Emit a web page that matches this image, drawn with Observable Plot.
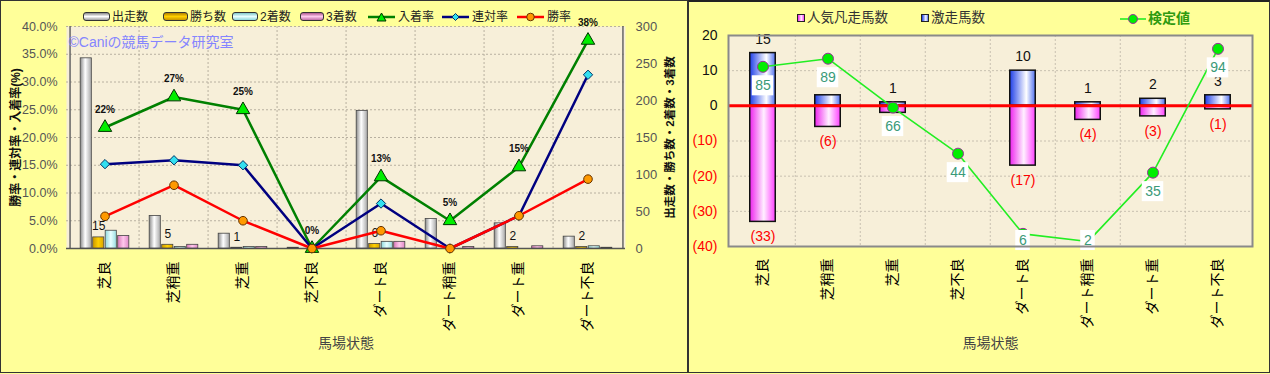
<!DOCTYPE html>
<html><head><meta charset="utf-8">
<script src="https://cdn.jsdelivr.net/npm/d3@7"></script>
<script src="https://cdn.jsdelivr.net/npm/@observablehq/plot@0.6"></script>
<style>
body{margin:0;background:#ffff99;font-family:"Liberation Sans","Noto Sans CJK JP",sans-serif;}
#wrap{position:relative;width:1270px;height:374px;background:#ffff99;overflow:hidden}
.abs{position:absolute}
.lg{position:absolute;font-size:12px;color:#222;line-height:14px;white-space:nowrap}
.ic{position:absolute;height:7px;border:1px solid #333;border-radius:3px}
.sq{position:absolute;width:6px;height:6px;border:1px solid #222}
svg.plot{position:absolute;top:0}
</style></head>
<body>
<svg width="0" height="0" style="position:absolute">
<defs>
<linearGradient id="gStart" x1="0" x2="1" y1="0" y2="0"><stop offset="0" stop-color="#8a8a8a"/><stop offset="0.45" stop-color="#ffffff"/><stop offset="1" stop-color="#a8a8a8"/></linearGradient>
<linearGradient id="gWin" x1="0" x2="1" y1="0" y2="0"><stop offset="0" stop-color="#c89600"/><stop offset="0.5" stop-color="#ffd000"/><stop offset="1" stop-color="#d8a400"/></linearGradient>
<linearGradient id="gSecond" x1="0" x2="1" y1="0" y2="0"><stop offset="0" stop-color="#8fd8dc"/><stop offset="0.5" stop-color="#e8ffff"/><stop offset="1" stop-color="#9adfe2"/></linearGradient>
<linearGradient id="gThird" x1="0" x2="1" y1="0" y2="0"><stop offset="0" stop-color="#d878b8"/><stop offset="0.5" stop-color="#ffc8ec"/><stop offset="1" stop-color="#e088c8"/></linearGradient>
<linearGradient id="gBlue" x1="0" x2="1" y1="0" y2="0"><stop offset="0" stop-color="#1f3fe8"/><stop offset="0.65" stop-color="#ffffff"/><stop offset="1" stop-color="#5070f0"/></linearGradient>
<linearGradient id="gPink" x1="0" x2="1" y1="0" y2="0"><stop offset="0" stop-color="#ee22ee"/><stop offset="0.55" stop-color="#fff0ff"/><stop offset="1" stop-color="#ff40ff"/></linearGradient>
</defs>
</svg>
<div id="wrap"></div>
<script>
// ---------- data ----------
const cats = ["芝良","芝稍重","芝重","芝不良","ダート良","ダート稍重","ダート重","ダート不良"];
// left chart: counts
const starts  = [257, 44, 20, 1, 186, 40, 34, 16];
const wins    = [15, 5, 1, 0, 6, 0, 2, 2];
const seconds = [24, 2, 2, 0, 9, 0, 0, 3];
const thirds  = [17, 5, 2, 0, 9, 2, 3, 1];
// left chart: rates (%)
const winRate    = [5.8, 11.4, 5.0, 0, 3.2, 0, 5.9, 12.5];
const rentaiRate = [15.2, 15.9, 15.0, 0, 8.1, 0, 5.9, 31.3];
const placeRate  = [21.8, 27.3, 25.0, 0, 12.9, 5.0, 14.7, 37.5];
const placeLabels = ["22%","27%","25%","0%","13%","5%","15%","38%"];
const pctTicks = [0,5,10,15,20,25,30,35,40];
const countTicks = [0,50,100,150,200,250,300];
// right chart
const gekisou = [15, 3, 1, 0, 10, 1, 2, 3];      // 激走馬数
const bonsou  = [33, 6, 2, 0, 17, 4, 3, 1];      // 人気凡走馬数
const kentei  = [11.1, 13.4, -0.5, -13.6, -36.4, -38.6, -19.0, 16.2]; // 検定値 (plotted)
const kenteiLabels = ["85","89","66","44","6","2","35","94"];
const rTicks = [20,10,0,-10,-20,-30,-40];

const FONT = '"Liberation Sans","Noto Sans CJK JP",sans-serif';
const wrap = document.getElementById("wrap");

// ---------- left chart ----------
const W1 = 688, H = 374, mL1 = 66, mR1 = 63;
const bw1 = (W1 - mL1 - mR1) / cats.length;
const k = 40 / 300;
function gbar(vals, off, fill) {
  return Plot.barY(cats, {x: d => d, y: (d, i) => vals[i] * k, fill, stroke: "#444", strokeWidth: 0.8,
    insetLeft: bw1 / 2 + off - 6, insetRight: bw1 / 2 - off - 6});
}
const left = Plot.plot({
  width: W1, height: H, marginLeft: mL1, marginRight: mR1, marginTop: 26, marginBottom: 126,
  x: {type: "band", domain: cats, padding: 0, axis: null},
  y: {domain: [0, 40], axis: null},
  style: {background: "transparent", fontFamily: FONT, overflow: "visible"},
  marks: [
    Plot.frame({fill: "#f7efd9", stroke: "none"}),
    Plot.ruleY(pctTicks.slice(1), {stroke: "#b8b0a0", strokeDasharray: "2,2"}),
    Plot.ruleX(cats.slice(1), {x: d => d, dx: -bw1 / 2, stroke: "#b8b0a0", strokeDasharray: "2,2"}),
    Plot.ruleX([cats[0]], {x: d => d, dx: -bw1 / 2, stroke: "#666", strokeWidth: 1.5}),
    Plot.ruleX([cats[7]], {x: d => d, dx: bw1 / 2, stroke: "#666", strokeWidth: 1.5}),
    Plot.ruleY([0], {stroke: "#555", strokeWidth: 1.5}),
    gbar(starts, -18.75, "url(#gStart)"),
    gbar(wins, -6.25, "url(#gWin)"),
    gbar(seconds, 6.25, "url(#gSecond)"),
    gbar(thirds, 18.75, "url(#gThird)"),
    Plot.text(cats, {filter: (d, i) => wins[i] > 0, x: d => d, y: (d, i) => wins[i] * k, dx: -6.25, dy: -11,
      text: (d, i) => String(wins[i]), fontSize: 12, fill: "#111"}),
    Plot.line(cats, {x: d => d, y: (d, i) => placeRate[i], stroke: "#008000", strokeWidth: 2.5}),
    Plot.line(cats, {x: d => d, y: (d, i) => rentaiRate[i], stroke: "#000080", strokeWidth: 2.5}),
    Plot.line(cats, {x: d => d, y: (d, i) => winRate[i], stroke: "#ff0000", strokeWidth: 2.5}),
    Plot.dot(cats, {x: d => d, y: (d, i) => placeRate[i], symbol: "triangle", r: 5, fill: "#00ee00", stroke: "#003300", strokeWidth: 1}),
    Plot.dot(cats, {x: d => d, y: (d, i) => rentaiRate[i], symbol: "diamond2", r: 4.2, fill: "#33e0f0", stroke: "#003366", strokeWidth: 1}),
    Plot.dot(cats, {x: d => d, y: (d, i) => winRate[i], symbol: "circle", r: 4.3, fill: "#ff9900", stroke: "#663300", strokeWidth: 1}),
    Plot.text(cats, {x: d => d, y: (d, i) => placeRate[i], dy: -18, text: (d, i) => placeLabels[i],
      fontSize: 10, fontWeight: "bold", fill: "#111"}),
    Plot.text(["©Caniの競馬データ研究室"], {frameAnchor: "top-left", textAnchor: "start", lineAnchor: "middle",
      dx: 2, dy: 16, fill: "#8585ff", fontSize: 14}),
    Plot.text(pctTicks, {y: d => d, frameAnchor: "left", textAnchor: "end", dx: -9,
      text: d => d.toFixed(1) + "%", fontSize: 12.5, fill: "#555"}),
    Plot.text(countTicks, {y: d => d * k, frameAnchor: "right", textAnchor: "start", dx: 10,
      text: d => String(d), fontSize: 13, fill: "#555"}),
    Plot.text(["勝率・連対率・入着率(%)"], {frameAnchor: "left", textAnchor: "middle", rotate: -90, dx: -50,
      fontSize: 12, fontWeight: "bold", fill: "#111"}),
    Plot.text(["出走数・勝ち数・2着数・3着数"], {frameAnchor: "right", textAnchor: "middle", rotate: -90, dx: 45,
      fontSize: 11.5, fontWeight: "bold", fill: "#111"}),
    Plot.text(cats, {x: d => d, frameAnchor: "bottom", rotate: -90, textAnchor: "end", lineAnchor: "middle",
      dy: 13, fontSize: 14, fill: "#000"}),
    Plot.text(["馬場状態"], {frameAnchor: "bottom", dy: 99, fontSize: 14, fill: "#444"})
  ]
});
left.classList.add("plot");
left.style.left = "0px";
wrap.appendChild(left);

// ---------- right chart ----------
const W2 = 582, mL2 = 40, mR2 = 18;
const bw2 = (W2 - mL2 - mR2) / cats.length;
const boxY = v => Math.max(v - 5.4, -38.3);
// a count label hidden by a 検定値 label box in the original is not drawn
const hidden = (labelY, i) => Math.abs(labelY - boxY(kentei[i])) < 2.85;
const right = Plot.plot({
  width: W2, height: H, marginLeft: mL2, marginRight: mR2, marginTop: 35, marginBottom: 128,
  x: {type: "band", domain: cats, padding: 0, axis: null},
  y: {domain: [-40, 20], axis: null},
  style: {background: "transparent", fontFamily: FONT, overflow: "visible"},
  marks: [
    Plot.frame({fill: "#f7efd9", stroke: "none"}),
    Plot.ruleY([10, -10, -20, -30], {stroke: "#c8c0b0", strokeDasharray: "2,2"}),
    Plot.ruleX(cats.slice(1), {x: d => d, dx: -bw2 / 2, stroke: "#c8c0b0", strokeDasharray: "2,2"}),
    Plot.barY(cats, {filter: (d, i) => gekisou[i] > 0, x: d => d, y1: 0, y2: (d, i) => gekisou[i],
      fill: "url(#gBlue)", stroke: "#111", strokeWidth: 1.5, insetLeft: bw2 / 2 - 13, insetRight: bw2 / 2 - 13}),
    Plot.barY(cats, {filter: (d, i) => bonsou[i] > 0, x: d => d, y1: 0, y2: (d, i) => -bonsou[i],
      fill: "url(#gPink)", stroke: "#111", strokeWidth: 1.5, insetLeft: bw2 / 2 - 13, insetRight: bw2 / 2 - 13}),
    Plot.ruleY([0], {stroke: "#ff0000", strokeWidth: 3}),
    Plot.text(cats, {filter: (d, i) => gekisou[i] > 0 && !hidden(gekisou[i] + 4, i), x: d => d, y: (d, i) => gekisou[i], dy: -14,
      text: (d, i) => String(gekisou[i]), fontSize: 14, fill: "#111"}),
    Plot.text(cats, {filter: (d, i) => bonsou[i] > 0 && !hidden(-bonsou[i] - 4.3, i), x: d => d, y: (d, i) => -bonsou[i], dy: 15,
      text: (d, i) => `(${bonsou[i]})`, fontSize: 14, fill: "#ff0000"}),
    Plot.line(cats, {x: d => d, y: (d, i) => kentei[i], stroke: "#22ee22", strokeWidth: 1.6}),
    Plot.dot(cats, {x: d => d, y: (d, i) => kentei[i], r: 5.5, fill: "#00ee00", stroke: "#993399", strokeWidth: 1}),
    Plot.barY(cats, {filter: (d, i) => kenteiLabels[i].length > 1, x: d => d,
      y1: (d, i) => boxY(kentei[i]) - 2.85, y2: (d, i) => boxY(kentei[i]) + 2.85,
      fill: "#ffffff", insetLeft: bw2 / 2 - 11, insetRight: bw2 / 2 - 11}),
    Plot.barY(cats, {filter: (d, i) => kenteiLabels[i].length === 1, x: d => d,
      y1: (d, i) => boxY(kentei[i]) - 2.85, y2: (d, i) => boxY(kentei[i]) + 2.85,
      fill: "#ffffff", insetLeft: bw2 / 2 - 7.5, insetRight: bw2 / 2 - 7.5}),
    Plot.text(cats, {x: d => d, y: (d, i) => boxY(kentei[i]), text: (d, i) => kenteiLabels[i],
      fontSize: 14, fill: "#3a9a78"}),
    Plot.frame({stroke: "#8a8a8a", strokeWidth: 2}),
    Plot.text(rTicks.filter(d => d >= 0), {y: d => d, frameAnchor: "left", textAnchor: "end", dx: -11,
      text: d => String(d), fontSize: 14, fill: "#111"}),
    Plot.text(rTicks.filter(d => d < 0), {y: d => d, frameAnchor: "left", textAnchor: "end", dx: -11,
      text: d => `(${-d})`, fontSize: 14, fill: "#ff0000"}),
    Plot.text(cats, {x: d => d, frameAnchor: "bottom", rotate: -90, textAnchor: "end", lineAnchor: "middle",
      dy: 12, fontSize: 14, fill: "#000"}),
    Plot.text(["馬場状態"], {frameAnchor: "bottom", dy: 101, fontSize: 14, fill: "#444"})
  ]
});
right.classList.add("plot");
right.style.left = "688px";
wrap.appendChild(right);

// ---------- legends & panel borders ----------
function add(html) { wrap.insertAdjacentHTML("beforeend", html); }
add('<div class="abs" style="left:0;top:0;width:688px;height:373px;border:1px solid #333;box-sizing:border-box;pointer-events:none"></div>');
add('<div class="abs" style="left:688px;top:0;width:582px;height:373px;border:1px solid #333;border-top:2px solid #222;box-sizing:border-box;pointer-events:none"></div>');

const barLegend = [
  {name: "出走数", x: 83, w: 25, bg: "linear-gradient(to bottom,#8a8a8a,#ffffff 50%,#a0a0a0)"},
  {name: "勝ち数", x: 163, w: 23, bg: "linear-gradient(to bottom,#b08000,#ffd000 50%,#c89600)"},
  {name: "2着数", x: 232, w: 24, bg: "linear-gradient(to bottom,#80c8cc,#e8ffff 50%,#90d8dc)"},
  {name: "3着数", x: 300, w: 22, bg: "linear-gradient(to bottom,#b05890,#ffc8ec 50%,#c070a8)"}
];
barLegend.forEach(b => {
  add(`<div class="ic" style="left:${b.x}px;top:12px;width:${b.w}px;background:${b.bg}"></div>`);
  add(`<div class="lg" style="left:${b.x + b.w + 4}px;top:10px">${b.name}</div>`);
});
const lineLegend = [
  {name: "入着率", x: 368, stroke: "#008000", marker: '<path d="M13.5,2 L18,10 L9,10 Z" fill="#00ee00" stroke="#003300" stroke-width="1"/>'},
  {name: "連対率", x: 442, stroke: "#000080", marker: '<path d="M13.5,2.5 L17,6 L13.5,9.5 L10,6 Z" fill="#33e0f0" stroke="#003366" stroke-width="1"/>'},
  {name: "勝率", x: 517, stroke: "#ff0000", marker: '<circle cx="13.5" cy="6" r="3.8" fill="#ff9900" stroke="#663300" stroke-width="1"/>'}
];
lineLegend.forEach(l => {
  add(`<svg class="abs" style="left:${l.x}px;top:11px" width="27" height="12"><line x1="0" y1="6" x2="27" y2="6" stroke="${l.stroke}" stroke-width="2.5"/>${l.marker}</svg>`);
  add(`<div class="lg" style="left:${l.x + 30}px;top:10px">${l.name}</div>`);
});
// right legend
add('<div class="sq" style="left:797px;top:14px;background:linear-gradient(to right,#ee22ee,#fff0ff 55%,#ff40ff)"></div>');
add('<div class="lg" style="left:807px;top:11px;font-size:13.5px;color:#333">人気凡走馬数</div>');
add('<div class="sq" style="left:921px;top:14px;background:linear-gradient(to right,#1f3fe8,#ffffff 65%,#5070f0)"></div>');
add('<div class="lg" style="left:931px;top:11px;font-size:13.5px;color:#333">激走馬数</div>');
add('<svg class="abs" style="left:1120px;top:12px" width="27" height="14"><line x1="0" y1="7" x2="26" y2="7" stroke="#22ee22" stroke-width="1.6"/><circle cx="13" cy="7" r="4.5" fill="#00ee00" stroke="#993399" stroke-width="1"/></svg>');
add('<div class="lg" style="left:1148px;top:11px;font-size:14px;font-weight:bold;color:#2f9a10">検定値</div>');
</script>
</body></html>
